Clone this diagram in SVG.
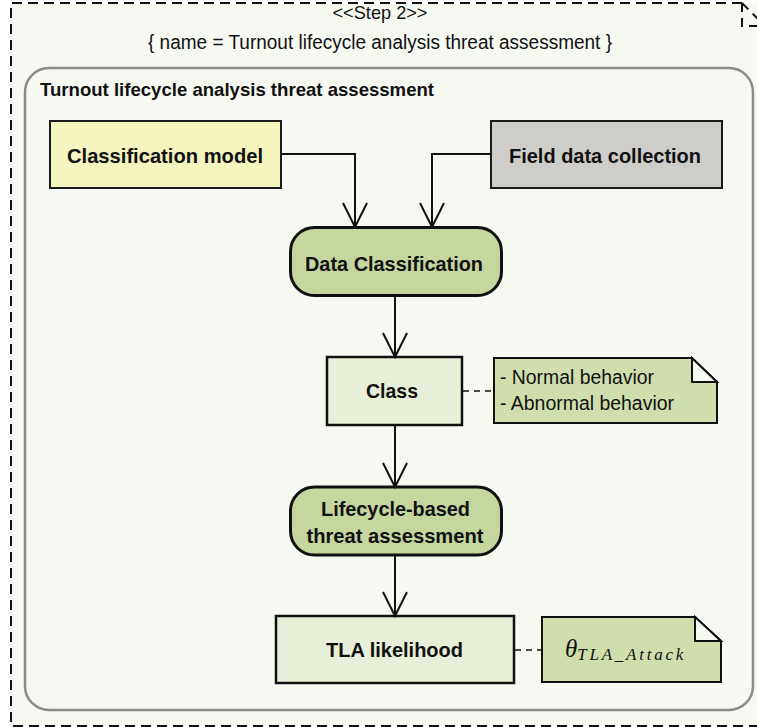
<svg xmlns="http://www.w3.org/2000/svg" width="757" height="727" viewBox="0 0 757 727">
  <style>
    .sans { font-family: "Liberation Sans", Arial, sans-serif; }
    .lbl { font-family: "Liberation Sans", Arial, sans-serif; font-weight: bold; font-size: 21px; text-anchor: middle; fill: #111; }
    .note-txt { font-family: "Liberation Sans", Arial, sans-serif; font-size: 19.5px; fill: #111; }
    .box { stroke: #1a1a1a; stroke-width: 2; }
    .act { fill: #c5d69f; stroke: #111; stroke-width: 3; }
    .obj { fill: #e7efd8; stroke: #111; stroke-width: 2.5; }
    .note { fill: #cfdeac; stroke: #111; stroke-width: 2; }
    .fold { fill: #f6f8f2; stroke: #111; stroke-width: 2; }
    .flow { fill: none; stroke: #111; stroke-width: 2; }
    .anchor { fill: none; stroke: #111; stroke-width: 1.6; stroke-dasharray: 6,5; }
  </style>
  <defs>
    <marker id="open-arrow" viewBox="-26 -14 28 28" refX="0" refY="0" markerWidth="28" markerHeight="28" markerUnits="userSpaceOnUse" orient="auto">
      <path d="M-24,-12 L0,0 L-24,12" fill="none" stroke="#111" stroke-width="2"/>
    </marker>
  </defs>

  <rect x="0" y="0" width="757" height="727" fill="#ffffff"/>

  <!-- Step frame (dashed, folded top-right corner) -->
  <g id="step-frame">
    <rect x="11" y="3" width="760" height="723" fill="#f6f8f2"/>
    <path d="M742,3 L11,3 L11,726 L771,726" fill="none" stroke="#111" stroke-width="2" stroke-dasharray="10,6"/>
    <path d="M742,3 L742,26 L771,26 M742,3 L765,26" fill="none" stroke="#111" stroke-width="2" stroke-dasharray="9,6"/>
    <text class="sans" x="380" y="19" font-size="19" text-anchor="middle" fill="#111" textLength="95" lengthAdjust="spacingAndGlyphs">&lt;&lt;Step 2&gt;&gt;</text>
    <text class="sans" x="380" y="49" font-size="19.5" text-anchor="middle" fill="#111" textLength="464" lengthAdjust="spacingAndGlyphs">{ name = Turnout lifecycle analysis threat assessment }</text>
  </g>

  <!-- Activity container -->
  <g id="activity">
    <rect x="25" y="68" width="728" height="642" rx="24" ry="24" fill="#f6f8f2" stroke="#8a8a8a" stroke-width="2.5"/>
    <text class="sans" x="40" y="96" font-size="18.5" font-weight="bold" fill="#111" textLength="394" lengthAdjust="spacingAndGlyphs">Turnout lifecycle analysis threat assessment</text>
  </g>

  <g id="classification-model">
    <rect class="box" x="50" y="121" width="231" height="67" fill="#f4f4bf"/>
    <text class="lbl" x="165" y="163" textLength="196" lengthAdjust="spacingAndGlyphs">Classification model</text>
  </g>

  <g id="field-data-collection">
    <rect class="box" x="491" y="121" width="231" height="67" fill="#cfcdc9"/>
    <text class="lbl" x="605" y="163" textLength="192" lengthAdjust="spacingAndGlyphs">Field data collection</text>
  </g>

  <g id="data-classification">
    <rect class="act" x="290.5" y="227.5" width="211" height="68" rx="24" ry="24"/>
    <text class="lbl" x="394" y="271" textLength="178" lengthAdjust="spacingAndGlyphs">Data Classification</text>
  </g>

  <g id="class">
    <rect class="obj" x="327" y="357" width="135" height="68"/>
    <text class="lbl" x="392" y="398" textLength="52" lengthAdjust="spacingAndGlyphs">Class</text>
  </g>

  <g id="class-note">
    <path class="note" d="M494,358 L692,358 L717,382 L717,423 L494,423 Z"/>
    <path class="fold" d="M692,358 L692,382 L717,382 Z"/>
    <text class="note-txt" x="500" y="384" textLength="154" lengthAdjust="spacingAndGlyphs">- Normal behavior</text>
    <text class="note-txt" x="500" y="410" textLength="174" lengthAdjust="spacingAndGlyphs">- Abnormal behavior</text>
  </g>

  <g id="lifecycle-threat-assessment">
    <rect class="act" x="290.5" y="487" width="211" height="68" rx="24" ry="24"/>
    <text class="lbl" x="395.5" y="516" textLength="149" lengthAdjust="spacingAndGlyphs">Lifecycle-based</text>
    <text class="lbl" x="395" y="543" textLength="177" lengthAdjust="spacingAndGlyphs">threat assessment</text>
  </g>

  <g id="tla-likelihood">
    <rect class="obj" x="276" y="616" width="238" height="67"/>
    <text class="lbl" x="394.5" y="657" textLength="137" lengthAdjust="spacingAndGlyphs">TLA likelihood</text>
  </g>

  <g id="tla-note">
    <path class="note" d="M542,617 L695,617 L721,641 L721,682 L542,682 Z"/>
    <path class="fold" d="M695,617 L695,641 L721,641 Z"/>
    <text x="565" y="657" font-family="'Liberation Serif', 'DejaVu Serif', serif" font-style="italic" font-size="25" fill="#111">θ<tspan font-size="17" dy="3" textLength="106" lengthAdjust="spacing">TLA_Attack</tspan></text>
  </g>

  <!-- Connectors -->
  <g id="connectors">
    <path class="flow" d="M281,154 L355,154 L355,227" marker-end="url(#open-arrow)"/>
    <path class="flow" d="M491,154 L432,154 L432,227" marker-end="url(#open-arrow)"/>
    <path class="flow" d="M395,296 L395,357" marker-end="url(#open-arrow)"/>
    <path class="flow" d="M395,425 L395,487" marker-end="url(#open-arrow)"/>
    <path class="flow" d="M395,555 L395,616" marker-end="url(#open-arrow)"/>
    <path class="anchor" d="M463,391 L494,391"/>
    <path class="anchor" d="M515,650 L542,650"/>
  </g>
</svg>
